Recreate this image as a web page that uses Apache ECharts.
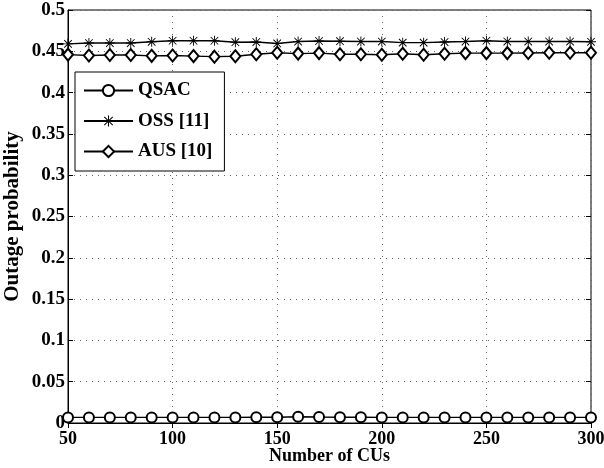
<!DOCTYPE html>
<html>
<head>
<meta charset="utf-8">
<script src="https://cdn.jsdelivr.net/npm/echarts@6/dist/echarts.min.js"></script>
<style>
html, body { margin: 0; padding: 0; background: #fff; }
#chart { width: 604px; height: 468px; }
</style>
</head>
<body>
<div id="chart"></div>
<script>
// number of CUs on the x axis
var cus = [50, 60, 70, 80, 90, 100, 110, 120, 130, 140, 150, 160, 170, 180, 190, 200, 210, 220, 230, 240, 250, 260, 270, 280, 290, 300]

var qsac = [0.0068, 0.0068, 0.0068, 0.0068, 0.0068, 0.0068, 0.0068, 0.0068, 0.0068, 0.0070, 0.0070, 0.0075, 0.0072, 0.0070, 0.0070, 0.0068, 0.0068, 0.0068, 0.0068, 0.0068, 0.0068, 0.0068, 0.0068, 0.0068, 0.0068, 0.0068]
var oss = [0.4590, 0.4600, 0.4600, 0.4600, 0.4615, 0.4628, 0.4628, 0.4628, 0.4610, 0.4612, 0.4595, 0.4618, 0.4625, 0.4622, 0.4618, 0.4618, 0.4605, 0.4605, 0.4612, 0.4618, 0.4628, 0.4618, 0.4618, 0.4618, 0.4618, 0.4615]
var aus = [0.4460, 0.4450, 0.4455, 0.4455, 0.4445, 0.4450, 0.4442, 0.4435, 0.4440, 0.4465, 0.4482, 0.4472, 0.4478, 0.4465, 0.4465, 0.4458, 0.4470, 0.4458, 0.4470, 0.4478, 0.4478, 0.4478, 0.4480, 0.4482, 0.4482, 0.4482]

var seriesNames = ['QSAC', 'OSS [11]', 'AUS [10]']

// matlab style '*' marker
var starPath = 'path://M9.1 0L10.9 0L10.9 20L9.1 20Z M0 9.1L20 9.1L20 10.9L0 10.9Z M1.8 3.1L3.1 1.8L18.2 16.9L16.9 18.2Z M16.9 1.8L18.2 3.1L3.1 18.2L1.8 16.9Z'

var font = 'Liberation Serif'

function pairs(ys) {
  return cus.map(function (x, i) { return [x, ys[i]] })
}

var chart = echarts.init(document.getElementById('chart'))

var lineStyle = { color: '#000', width: 1.4 }

chart.setOption({
  animation: false,
  backgroundColor: '#fff',
  grid: {
    left: 68, right: 13, top: 10, bottom: 45,
    outerBoundsMode: 'none',
    containLabel: false,
    show: true, borderColor: '#000', borderWidth: 1
  },
  legend: {
    orient: 'vertical',
    left: 75, top: 72,
    padding: [9, 12, 10, 8],
    itemWidth: 49, itemHeight: 14, itemGap: 11.5,
    backgroundColor: '#fff',
    borderColor: '#000', borderWidth: 1,
    textStyle: { fontFamily: font, fontWeight: 'bold', fontSize: 19, color: '#000' },
    data: seriesNames
  },
  xAxis: [{
    type: 'value', min: 50, max: 300, interval: 50,
    name: 'Number of CUs', nameLocation: 'middle', nameGap: 24,
    nameMoveOverlap: false,
    nameTextStyle: { fontFamily: font, fontWeight: 'bold', fontSize: 18, color: '#000' },
    axisLine: { lineStyle: { color: '#000' } },
    axisTick: { inside: true, length: 5, lineStyle: { color: '#000' } },
    axisLabel: { fontFamily: font, fontWeight: 'bold', fontSize: 18, color: '#000', margin: 7 },
    splitLine: { lineStyle: { color: '#666', type: [1, 5] } }
  }, {
    type: 'value', min: 50, max: 300, interval: 50, position: 'top',
    axisLine: { show: false },
    axisTick: { inside: true, length: 5, lineStyle: { color: '#000' } },
    axisLabel: { show: false },
    splitLine: { show: false }
  }],
  yAxis: [{
    type: 'value', min: 0, max: 0.5, interval: 0.05,
    name: 'Outage probability', nameLocation: 'middle', nameGap: 45,
    nameMoveOverlap: false,
    nameTextStyle: { fontFamily: font, fontWeight: 'bold', fontSize: 21, color: '#000' },
    axisLine: { show: true, lineStyle: { color: '#000' } },
    axisTick: { show: true, inside: true, length: 5, lineStyle: { color: '#000' } },
    axisLabel: {
      fontFamily: font, fontWeight: 'bold', fontSize: 19, color: '#000', margin: 3,
      formatter: function (v) { return String(+v.toFixed(2)) }
    },
    splitLine: { lineStyle: { color: '#666', type: [1, 5] } }
  }, {
    type: 'value', min: 0, max: 0.5, interval: 0.05, position: 'right',
    axisLine: { show: false },
    axisTick: { show: true, inside: true, length: 5, lineStyle: { color: '#000' } },
    axisLabel: { show: false },
    splitLine: { show: false }
  }],
  series: [{
    name: seriesNames[0], type: 'line', data: pairs(qsac),
    symbol: 'emptyCircle', symbolSize: 10,
    lineStyle: lineStyle,
    itemStyle: { color: '#000', borderColor: '#000', borderWidth: 1.4 }
  }, {
    name: seriesNames[1], type: 'line', data: pairs(oss),
    symbol: starPath, symbolSize: 10,
    lineStyle: lineStyle,
    itemStyle: { color: '#000', borderWidth: 0 }
  }, {
    name: seriesNames[2], type: 'line', data: pairs(aus),
    symbol: 'emptyDiamond', symbolSize: [10, 12],
    lineStyle: lineStyle,
    itemStyle: { color: '#000', borderColor: '#000', borderWidth: 1.4 }
  }]
})
</script>
</body>
</html>
